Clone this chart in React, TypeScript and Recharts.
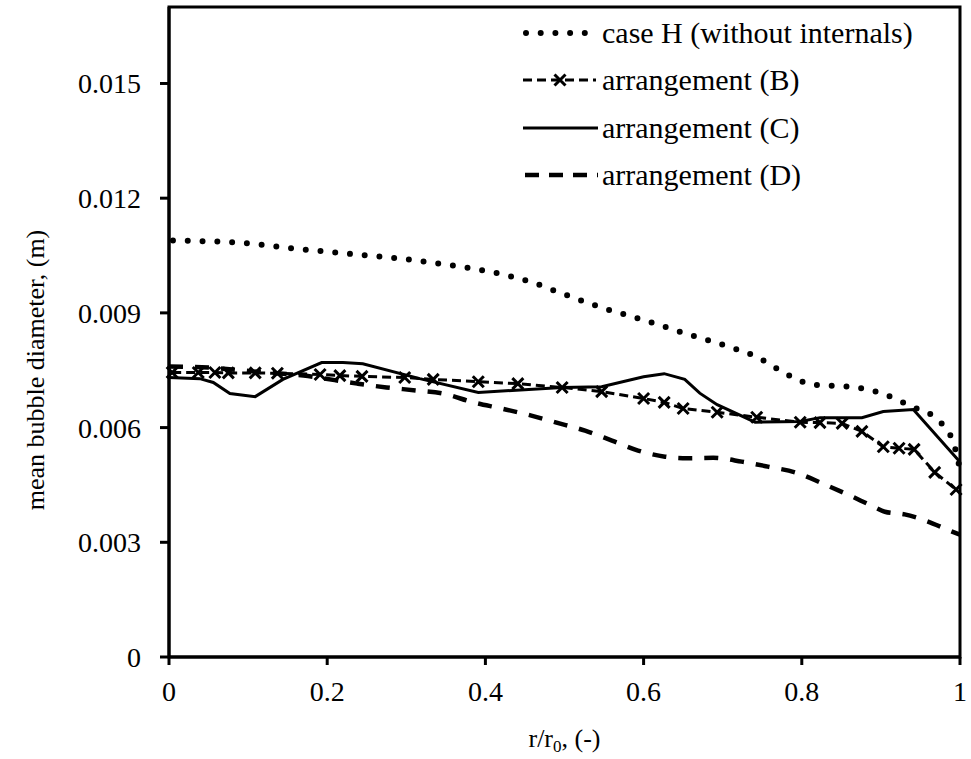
import { LineChart, Line, XAxis, YAxis, ReferenceArea, Legend, Label } from 'recharts'

// r/r0 positions and mean bubble diameter (m)
const caseHX = [0.005, 0.086, 0.16, 0.236, 0.292, 0.348, 0.405, 0.459, 0.494, 0.547, 0.602, 0.656, 0.71, 0.745, 0.777, 0.813, 0.869, 0.904, 0.939, 0.972, 0.992, 1]
const caseHY = [0.01089, 0.01084, 0.01068, 0.01053, 0.01042, 0.01027, 0.01008, 0.0098, 0.00953, 0.00914, 0.0088, 0.00844, 0.0081, 0.00783, 0.00744, 0.00713, 0.00705, 0.00687, 0.00655, 0.0062, 0.00558, 0.0049]

const arrBX = [0.004, 0.037, 0.058, 0.075, 0.109, 0.137, 0.191, 0.216, 0.244, 0.298, 0.334, 0.391, 0.441, 0.497, 0.547, 0.6, 0.626, 0.65, 0.693, 0.743, 0.798, 0.823, 0.851, 0.876, 0.903, 0.923, 0.942, 0.968, 0.995]
const arrBY = [0.00744, 0.00744, 0.00744, 0.00743, 0.00743, 0.00742, 0.00739, 0.00736, 0.00734, 0.00731, 0.00726, 0.0072, 0.00715, 0.00705, 0.00694, 0.00676, 0.00666, 0.0065, 0.0064, 0.00627, 0.00614, 0.00613, 0.00611, 0.0059, 0.0055, 0.00546, 0.00543, 0.00483, 0.00438]

const arrCX = [0, 0.039, 0.056, 0.077, 0.109, 0.144, 0.193, 0.22, 0.245, 0.317, 0.391, 0.497, 0.547, 0.6, 0.626, 0.652, 0.671, 0.693, 0.741, 0.798, 0.823, 0.876, 0.903, 0.941, 1]
const arrCY = [0.00731, 0.00728, 0.00718, 0.00689, 0.00681, 0.00726, 0.0077, 0.0077, 0.00767, 0.00728, 0.00692, 0.00705, 0.00707, 0.00733, 0.00741, 0.00726, 0.0069, 0.0066, 0.00614, 0.00616, 0.00626, 0.00626, 0.00642, 0.00647, 0.0051]

const arrDX = [0, 0.05, 0.106, 0.17, 0.238, 0.275, 0.313, 0.346, 0.385, 0.42, 0.457, 0.49, 0.526, 0.56, 0.593, 0.627, 0.655, 0.688, 0.724, 0.757, 0.793, 0.826, 0.858, 0.89, 0.905, 0.93, 0.956, 0.99, 1]
const arrDY = [0.0076, 0.00757, 0.00747, 0.00736, 0.00715, 0.00705, 0.00697, 0.00689, 0.00666, 0.0065, 0.00632, 0.00613, 0.00592, 0.00566, 0.0054, 0.00524, 0.0052, 0.00521, 0.00511, 0.00498, 0.00482, 0.00454, 0.00425, 0.00394, 0.0038, 0.00373, 0.00357, 0.00328, 0.0032]

const xTicks = [0, 0.2, 0.4, 0.6, 0.8, 1]
const yTicks = [0, 0.003, 0.006, 0.009, 0.012, 0.015]

const legendNames = ['case H (without internals)', 'arrangement (B)', 'arrangement (C)', 'arrangement (D)']

const toRows = (xs: number[], ys: number[]) => xs.map((x, i) => ({ x, y: ys[i] }))
const hData = toRows(caseHX, caseHY)
const bData = toRows(arrBX, arrBY)
const cData = toRows(arrCX, arrCY)
const dData = toRows(arrDX, arrDY)

const FONT = '"Liberation Serif", "Times New Roman", serif'
const tickStyle = { fontSize: 28, fontFamily: FONT, fill: '#000' }
const axisLine = { stroke: '#000', strokeWidth: 3 }

const fmtX = (v: number) => (v === 0 ? '0' : v === 1 ? '1' : v.toFixed(1))
const fmtY = (v: number) => (v === 0 ? '0' : v.toFixed(3))

function Cross(props: any) {
  const { cx, cy, index } = props
  if (cx == null || cy == null) return null
  const s = 5.5
  return (
    <path key={index} d={`M${cx - s},${cy - s}L${cx + s},${cy + s}M${cx - s},${cy + s}L${cx + s},${cy - s}`}
      stroke="#000" strokeWidth={3} fill="none" />
  )
}

function LegendBox() {
  const rows = [33, 80, 128, 175]
  return (
    <svg width={460} height={200} style={{ display: 'block' }}>
      <line x1={26} y1={rows[0]} x2={88} y2={rows[0]} stroke="#000" strokeWidth={6} strokeLinecap="round" strokeDasharray="0 14.7" />
      <line x1={23} y1={rows[1]} x2={96} y2={rows[1]} stroke="#000" strokeWidth={3} strokeDasharray="9 5" />
      <Cross cx={60} cy={rows[1]} />
      <line x1={23} y1={rows[2]} x2={98} y2={rows[2]} stroke="#000" strokeWidth={3} />
      <line x1={25} y1={rows[3]} x2={98} y2={rows[3]} stroke="#000" strokeWidth={4.5} strokeDasharray="14 10" />
      {legendNames.map((n, i) => (
        <text key={n} x={102} y={rows[i] + 10} fontSize={30} fontFamily={FONT} fill="#000">{n}</text>
      ))}
    </svg>
  )
}

function XTitle(props: any) {
  const { viewBox } = props
  const cx = viewBox.x + viewBox.width / 2
  return (
    <text x={cx} y={747} textAnchor="middle" fontSize={26} fontFamily={FONT} fill="#000">
      r/r<tspan fontSize={17} dy={5}>0</tspan><tspan dy={-5}>, (-)</tspan>
    </text>
  )
}

function YTitle(props: any) {
  const { viewBox } = props
  const cy = viewBox.y + viewBox.height / 2 + 38
  return (
    <text x={35} y={cy} transform={`rotate(-90 35 ${cy})`} textAnchor="middle" dominantBaseline="central"
      fontSize={26} fontFamily={FONT} fill="#000">
      mean bubble diameter, (m)
    </text>
  )
}

export default function App() {
  return (
    <div style={{ position: 'absolute', left: 0, top: 0, width: 971, height: 759, background: '#fff' }}>
      <LineChart width={971} height={759} margin={{ top: 7, right: 11, bottom: 0, left: 0 }}>
        <XAxis dataKey="x" type="number" domain={[0, 1]} ticks={xTicks} tickFormatter={fmtX}
          tick={tickStyle} axisLine={axisLine} tickLine={axisLine} tickSize={8} tickMargin={16} height={102}
          allowDuplicatedCategory={false}>
          <Label content={<XTitle />} />
        </XAxis>
        <YAxis type="number" domain={[0, 0.017]} ticks={yTicks} tickFormatter={fmtY}
          tick={tickStyle} axisLine={axisLine} tickLine={axisLine} tickSize={9} tickMargin={19} width={169}>
          <Label content={<YTitle />} />
        </YAxis>
        <ReferenceArea x1={0} x2={1} y1={0} y2={0.017} fill="none" stroke="#000" strokeWidth={3} />
        <Legend layout="horizontal" verticalAlign="middle" align="center" content={<LegendBox />}
          wrapperStyle={{ position: 'absolute', left: 500, top: 0, width: 460, height: 200 }} />
        <Line data={hData} dataKey="y" type="monotone" stroke="#000" strokeWidth={6} strokeLinecap="round"
          strokeDasharray="0 14.8" dot={false} isAnimationActive={false} legendType="none" />
        <Line data={dData} dataKey="y" type="monotone" stroke="#000" strokeWidth={4.5}
          strokeDasharray="14 12" dot={false} isAnimationActive={false} legendType="none" />
        <Line data={bData} dataKey="y" type="linear" stroke="#000" strokeWidth={3}
          strokeDasharray="9 5" dot={<Cross />} isAnimationActive={false} legendType="none" />
        <Line data={cData} dataKey="y" type="linear" stroke="#000" strokeWidth={3}
          dot={false} isAnimationActive={false} legendType="none" />
      </LineChart>
    </div>
  )
}
